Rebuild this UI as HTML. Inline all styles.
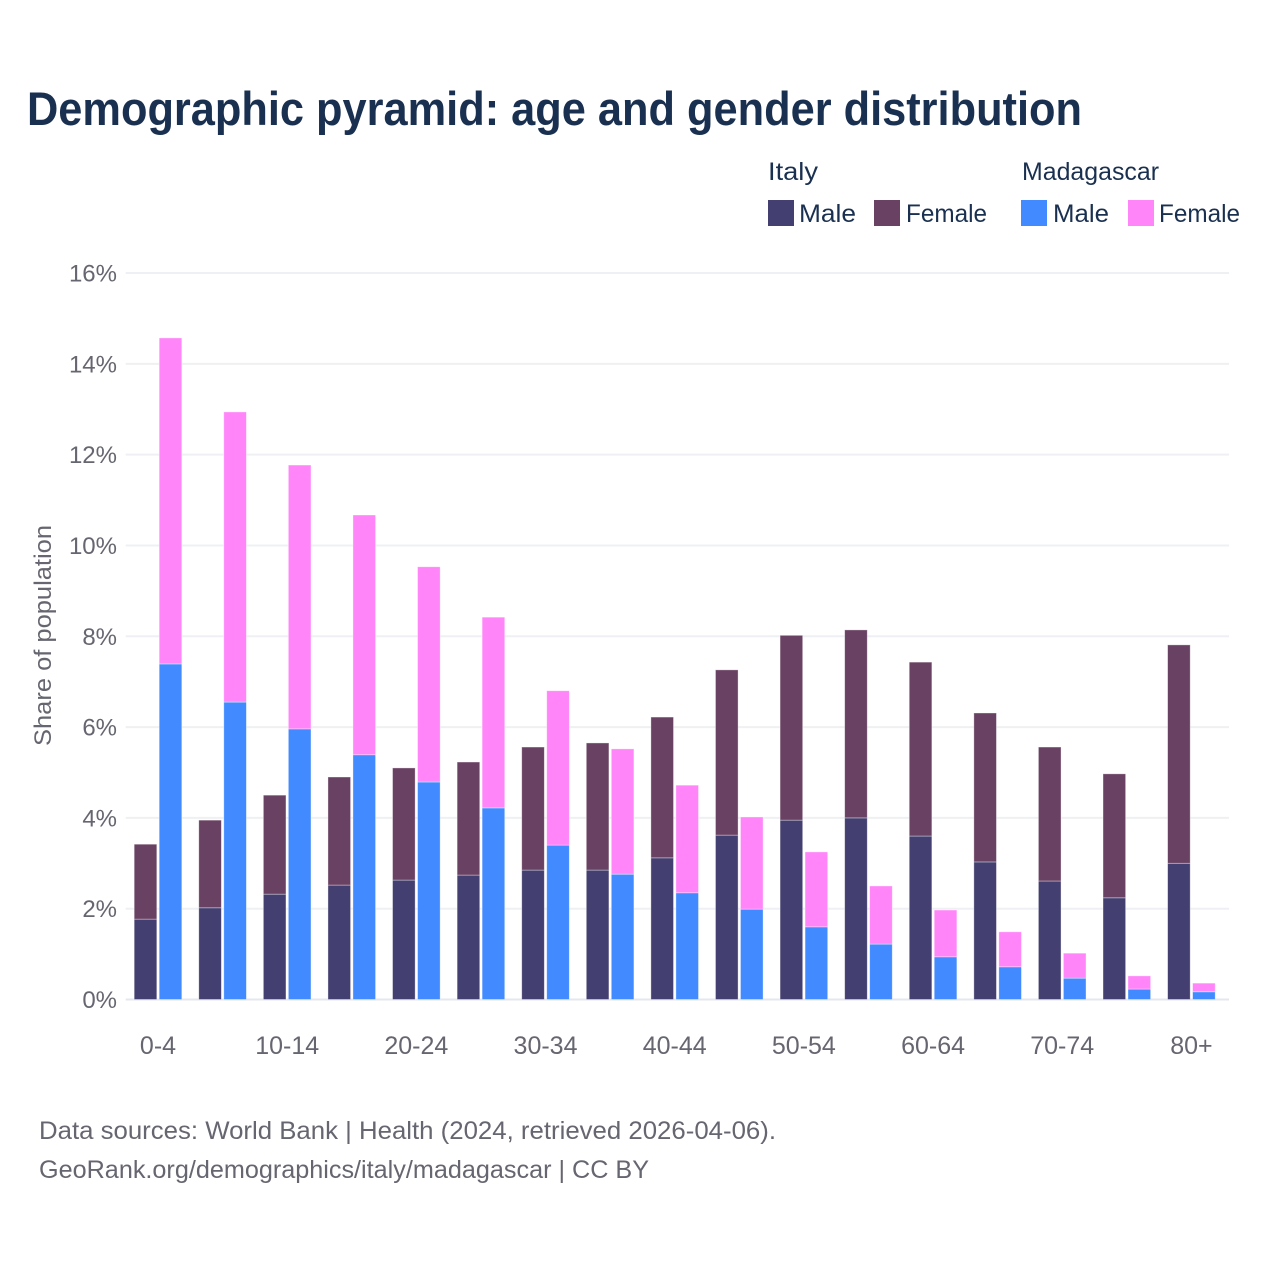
<!DOCTYPE html>
<html lang="en">
<head>
<meta charset="utf-8">
<title>Demographic pyramid: age and gender distribution</title>
<style>
html,body{margin:0;padding:0;background:#fff}
svg{display:block;font-family:"Liberation Sans",Arial,sans-serif}
</style>
</head>
<body>
<svg id="chart" xmlns="http://www.w3.org/2000/svg" width="1280" height="1280" viewBox="0 0 1280 1280">
  <rect width="1280" height="1280" fill="#ffffff"/>
  <text x="27" y="125" font-size="47" font-weight="700" fill="#1a3050" textLength="1055" lengthAdjust="spacingAndGlyphs">Demographic pyramid: age and gender distribution</text>

  <g font-size="25" fill="#1a3050">
    <text x="768" y="180" textLength="50" lengthAdjust="spacingAndGlyphs">Italy</text>
    <text x="1022" y="180" textLength="137" lengthAdjust="spacingAndGlyphs">Madagascar</text>
    <g>
      <rect x="768" y="200" width="26" height="26" fill="#433f70"/>
      <text x="799" y="222" textLength="57" lengthAdjust="spacingAndGlyphs">Male</text>
    </g>
    <g>
      <rect x="874" y="200" width="26" height="26" fill="#694162"/>
      <text x="906" y="222" textLength="81" lengthAdjust="spacingAndGlyphs">Female</text>
    </g>
    <g>
      <rect x="1021" y="200" width="26" height="26" fill="#418aff"/>
      <text x="1053" y="222" textLength="56" lengthAdjust="spacingAndGlyphs">Male</text>
    </g>
    <g>
      <rect x="1128" y="200" width="26" height="26" fill="#ff85f9"/>
      <text x="1159" y="222" textLength="81" lengthAdjust="spacingAndGlyphs">Female</text>
    </g>
  </g>

  <g id="grid"></g>
  <g id="yticks"></g>
  <g id="bars"></g>
  <g id="xticks"></g>

  <text transform="translate(51,746) rotate(-90)" x="0" y="0" font-size="24" fill="#666670" textLength="221" lengthAdjust="spacingAndGlyphs">Share of population</text>

  <text x="39" y="1139" font-size="25" fill="#666670" textLength="737" lengthAdjust="spacingAndGlyphs">Data sources: World Bank | Health (2024, retrieved 2026-04-06).</text>
  <text x="39" y="1178" font-size="25" fill="#666670" textLength="610" lengthAdjust="spacingAndGlyphs">GeoRank.org/demographics/italy/madagascar | CC BY</text>
</svg>
<script>
const categories = ['0-4','5-9','10-14','15-19','20-24','25-29','30-34','35-39','40-44','45-49','50-54','55-59','60-64','65-69','70-74','75-79','80+'];
const italyMale = [1.77,2.02,2.32,2.52,2.63,2.74,2.85,2.85,3.12,3.62,3.95,4.00,3.60,3.03,2.61,2.24,3.00];
const italyFemale = [1.65,1.93,2.18,2.38,2.47,2.49,2.71,2.80,3.10,3.64,4.07,4.14,3.83,3.28,2.95,2.73,4.81];
const madagascarMale = [7.39,6.55,5.96,5.39,4.79,4.22,3.40,2.76,2.35,1.99,1.60,1.22,0.94,0.72,0.47,0.23,0.17];
const madagascarFemale = [7.18,6.39,5.81,5.28,4.74,4.20,3.40,2.76,2.37,2.03,1.65,1.28,1.03,0.77,0.55,0.29,0.19];
const yTickValues = [0,2,4,6,8,10,12,14,16];
const xTickLabels = ['0-4','10-14','20-24','30-34','40-44','50-54','60-64','70-74','80+'];

const NS = 'http://www.w3.org/2000/svg';
const plotLeft = 125.7, plotRight = 1229, bandRight = 1223.7, plotBottom = 999.5, plotTop = 273;
const yMax = 16;
const step = (bandRight - plotLeft) / categories.length;
function yScale(v) { return plotBottom - (v / yMax) * (plotBottom - plotTop); }
function xScale(i) { return plotLeft + step * (i + 0.5); }

function make(tag, attrs) {
  const el = document.createElementNS(NS, tag);
  for (const k in attrs) el.setAttribute(k, attrs[k]);
  return el;
}

const grid = document.getElementById('grid');
const yticks = document.getElementById('yticks');
yTickValues.forEach(function (v) {
  const line = make('line', {x1: plotLeft, x2: plotRight, y1: yScale(v), y2: yScale(v), stroke: v === 0 ? '#e6e7ec' : '#eef0f3', 'stroke-width': 2});
  
  
  grid.appendChild(line);
  const t = make('text', {x: 117, y: yScale(v) + 8.5, 'text-anchor': 'end', 'font-size': 24, fill: '#666670'});
  t.textContent = v + '%';
  
  
  yticks.appendChild(t);
});

const xticks = document.getElementById('xticks');
xTickLabels.forEach(function (label) {
  const i = categories.indexOf(label);
  const t = make('text', {x: xScale(i), y: 1054, 'text-anchor': 'middle', 'font-size': 25, fill: '#666670'});
  t.textContent = label;
  
  
  xticks.appendChild(t);
});

const barW = 22.6, gap = 1.2;
const bars = document.getElementById('bars');
function drawBar(x, v0, v1, fill) {
  const r = make('rect', {x: x, y: yScale(v1), width: barW, height: yScale(v0) - yScale(v1), fill: fill, stroke: '#ffffff', 'stroke-opacity': 0.45, 'stroke-width': 0.8});
  
  
  bars.appendChild(r);
}
categories.forEach(function (c, i) {
  const cx = xScale(i);
  const leftX = cx - gap - barW;
  const rightX = cx + gap;
  drawBar(leftX, 0, italyMale[i], '#433f70');
  drawBar(leftX, italyMale[i], italyMale[i] + italyFemale[i], '#694162');
  drawBar(rightX, 0, madagascarMale[i], '#418aff');
  drawBar(rightX, madagascarMale[i], madagascarMale[i] + madagascarFemale[i], '#ff85f9');
});
</script>
</body>
</html>
